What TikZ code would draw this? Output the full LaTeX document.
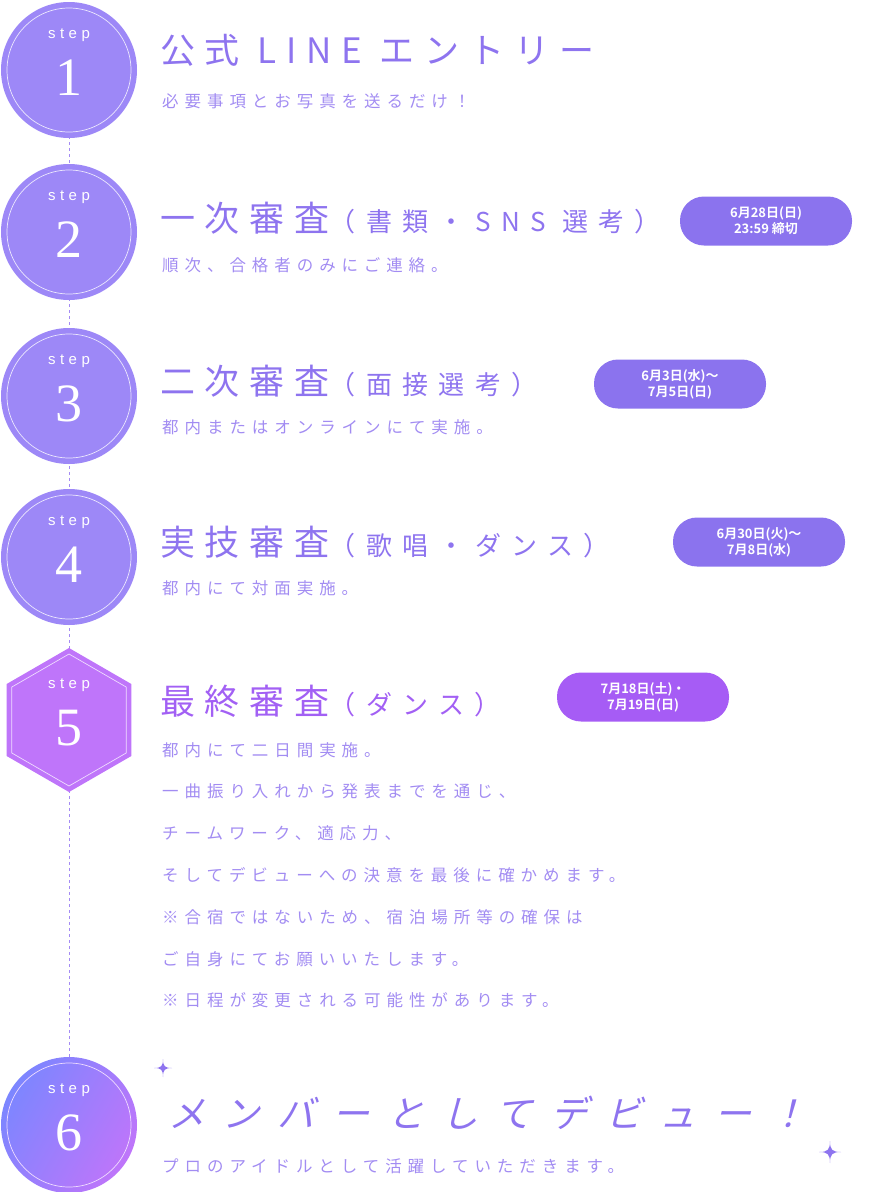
\documentclass[tikz,border=0pt]{standalone}
\usepackage{fontspec}
\setmainfont{Noto Sans CJK JP}
\newfontfamily\ttlfont[LetterSpace=28]{Noto Sans CJK JP}
\newfontfamily\smlfont[LetterSpace=40]{Noto Sans CJK JP}
\newfontfamily\subfont[LetterSpace=36]{Noto Sans CJK JP}
\newfontfamily\debfont[LetterSpace=48,FakeSlant=0.25]{Noto Sans CJK JP}
\newfontfamily\bdgfont{Noto Sans CJK JP Bold}
\newfontfamily\numfont{Liberation Serif}
\newfontfamily\stepfont[LetterSpace=30]{Liberation Sans}
\usetikzlibrary{shapes.geometric}
\definecolor{stepc}{HTML}{9D88F7}
\definecolor{hexc}{HTML}{BF75FA}
\definecolor{ttlc}{HTML}{8E74EF}
\definecolor{subc}{HTML}{A28CF2}
\definecolor{bdgc}{HTML}{8B73EE}
\definecolor{bdgv}{HTML}{A65CF5}
\definecolor{linec}{HTML}{A48BF4}
\definecolor{blu}{HTML}{7C86FF}
\tikzset{
  stepmark/.style={circle, fill=stepc, minimum size=136pt, inner sep=0pt},
  ring/.style={circle, draw=white!80!stepc, line width=0.7pt, minimum size=124pt, inner sep=0pt},
  ttl/.style={anchor=west, text=ttlc, font=\ttlfont\fontsize{35}{35}\selectfont, inner sep=0pt},
  sub/.style={anchor=west, text=subc, font=\subfont\fontsize{16.5}{16.5}\selectfont, inner sep=0pt},
  badge/.style={rounded corners=24pt, fill=bdgc, text=white, minimum width=172pt, minimum height=49pt,
    align=center, font=\bdgfont\fontsize{13}{16}\selectfont, inner sep=0pt},
  spark/.style={fill=ttlc}
}
\newcommand\smlt{\smlfont\fontsize{26}{26}\selectfont}
\newcommand\stepno[2]{%
  \node[text=white, font=\stepfont\fontsize{15}{15}\selectfont] at ([yshift=35pt]#1) {step};
  \node[text=white, font=\numfont\fontsize{54}{54}\selectfont] at ([yshift=-8pt]#1) {#2};}
\newcommand\sparkle[2]{\fill[spark] (#1) ++(0,#2) .. controls +(0,-#2*0.8) and +(#2*0.8,0) .. ++(-#2,-#2)
  .. controls +(#2*0.8,0) and +(0,#2*0.8) .. ++(#2,-#2) .. controls +(0,#2*0.8) and +(-#2*0.8,0) .. ++(#2,#2)
  .. controls +(-#2*0.8,0) and +(0,-#2*0.8) .. ++(-#2,#2) -- cycle;}
\begin{document}
\begin{tikzpicture}[x=1pt,y=1pt]
  \useasboundingbox (0,0) rectangle (873,-1192);
  % timeline
  \coordinate (c1) at (69,-70);
  \coordinate (c2) at (69,-232);
  \coordinate (c3) at (69,-396);
  \coordinate (c4) at (69,-557);
  \coordinate (c5) at (69,-720);
  \coordinate (c6) at (69,-1125);
  \draw[linec, dash pattern=on 3pt off 3pt, line width=0.8pt] (c1) -- (c6);
  % step marks
  \foreach \c in {c1,c2,c3,c4}{
    \node[stepmark] at (\c) {};
    \node[ring] at (\c) {};
  }
  \node[regular polygon, regular polygon sides=6, shape border rotate=90, fill=hexc, minimum size=144pt, inner sep=0pt] (hex) at (c5) {};
  \node[regular polygon, regular polygon sides=6, shape border rotate=90, draw=white!75!hexc, line width=0.7pt, minimum size=132pt, inner sep=0pt] at (c5) {};
  \node[circle, minimum size=136pt, inner sep=0pt, left color=blu, right color=hexc, shading angle=60] at (c6) {};
  \node[circle, draw=white!75!hexc, line width=0.7pt, minimum size=124pt, inner sep=0pt] at (c6) {};
  \stepno{c1}{1}
  \stepno{c2}{2}
  \stepno{c3}{3}
  \stepno{c4}{4}
  \stepno{c5}{5}
  \stepno{c6}{6}
  % titles
  \node[ttl] (t1) at (160,-50) {公式 LINE エントリー};
  \node[sub] (s1) at (162,-101) {必要事項とお写真を送るだけ！};
  \node[ttl] (t2) at (160,-218) {一次審査{\smlt（書類・SNS 選考）}};
  \node[sub] (s2) at (162,-265) {順次、合格者のみにご連絡。};
  \node[badge] (b2) at (766,-221) {6月28日(日)\\23:59 締切};
  \node[ttl] (t3) at (160,-381) {二次審査{\smlt（面接選考）}};
  \node[sub] (s3) at (162,-427) {都内またはオンラインにて実施。};
  \node[badge] (b3) at (680,-384) {6月3日(水)〜\\7月5日(日)};
  \node[ttl] (t4) at (160,-542) {実技審査{\smlt（歌唱・ダンス）}};
  \node[sub] (s4) at (162,-588) {都内にて対面実施。};
  \node[badge] (b4) at (759,-542) {6月30日(火)〜\\7月8日(水)};
  \node[ttl, text=bdgv!85!ttlc] (t5) at (160,-701) {最終審査{\smlt（ダンス）}};
  \node[badge, fill=bdgv] (b5) at (643,-697) {7月18日(土)・\\7月19日(日)};
  \node[sub, anchor=north west, align=left, font=\subfont\fontsize{16.5}{41.8}\selectfont] (s5) at (162,-742)
    {都内にて二日間実施。\\一曲振り入れから発表までを通じ、\\チームワーク、適応力、\\そしてデビューへの決意を最後に確かめます。\\※合宿ではないため、宿泊場所等の確保は\\ご自身にてお願いいたします。\\※日程が変更される可能性があります。};
  \node[ttl, font=\debfont\fontsize{37}{37}\selectfont] (t6) at (168,-1113) {メンバーとしてデビュー！};
  \node[sub] (s6) at (162,-1166) {プロのアイドルとして活躍していただきます。};
  % sparkles
  \sparkle{163,-1068}{9}
  \sparkle{830,-1152}{11}
\end{tikzpicture}
\end{document}
